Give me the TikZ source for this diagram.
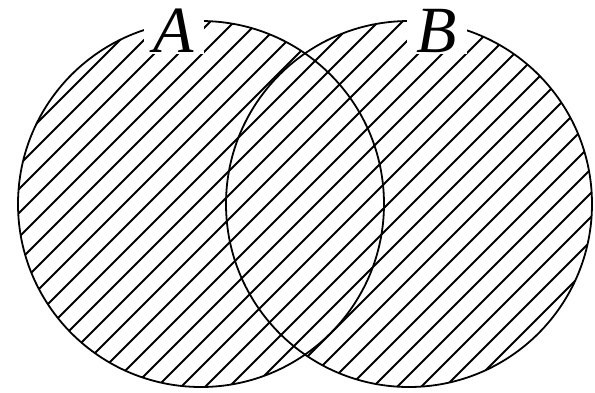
\documentclass[tikz,border=0pt]{standalone}
\usepackage{fontspec}
\setmainfont{Liberation Serif}
\usepackage{tikz}
\usetikzlibrary{positioning}

\tikzset{
    setdisc/.style={circle, draw, line width=1.8pt, minimum size=366pt, inner sep=0pt},
    hatch/.style={line width=1.8pt},
    setlab/.style={fill=white, inner xsep=10pt, inner ysep=1pt, font=\fontsize{66}{66}\selectfont\itshape}
}

\begin{document}
\begin{tikzpicture}[x=1pt, y=-1pt]
    \useasboundingbox (0,0) rectangle (595,392);
    \node[setdisc] (setA) at (201, 204) {};
    \node[setdisc] (setB) at (409, 204) {};
    % hatching of the union
    \begin{scope}
        \clip (setA.center) circle[radius=183pt] (setB.center) circle[radius=183pt];
        \foreach \c in {-400,-376,...,620}
            \draw[hatch] (\c, 392) -- ++(392, -392);
    \end{scope}
    \node[setlab] (labA) at (174, 31) {A};
    \node[setlab] (labB) at (437, 31) {B};
\end{tikzpicture}
\end{document}
